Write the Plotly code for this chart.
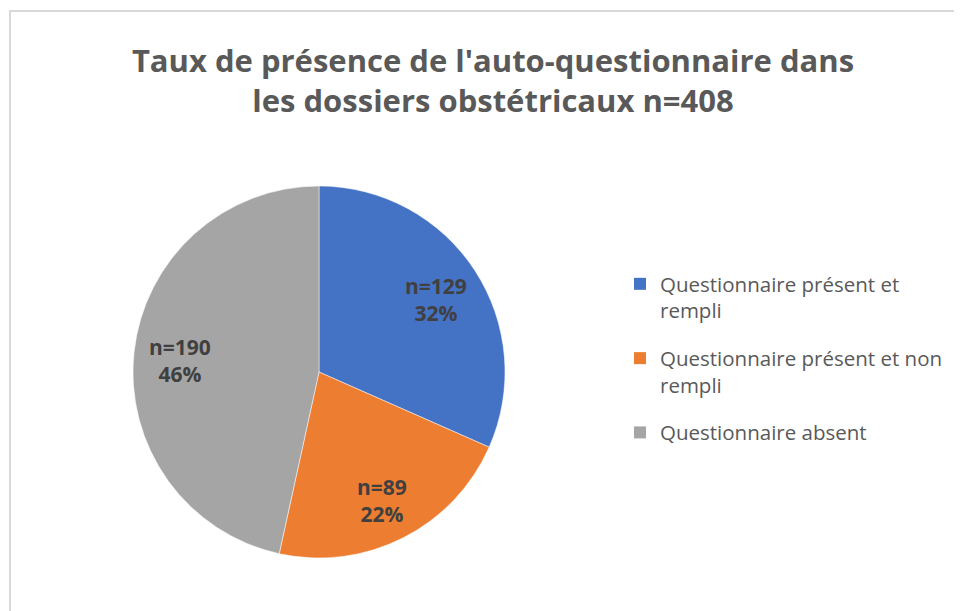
import math
import plotly.graph_objects as go

categories = ["Questionnaire présent et<br>rempli",
              "Questionnaire présent et non<br>rempli",
              "Questionnaire absent"]
counts = [129, 89, 190]
pct_labels = ["32%", "22%", "46%"]
colors = ["#4472C4", "#ED7D31", "#A5A5A5"]
title_text = "Taux de présence de l'auto-questionnaire dans<br>les dossiers obstétricaux n=408"

W, H = 962, 611
# the page adds an 8px body margin, so positions below are in figure pixels
cx, cy, r = 311, 364, 186
label_frac = 0.75
label_dy = 4

fig = go.Figure()
fig.add_trace(go.Pie(
    labels=categories,
    values=counts,
    textinfo="none",
    marker=dict(colors=colors, line=dict(color="white", width=0.5)),
    sort=False,
    direction="clockwise",
    rotation=0,
    showlegend=False,
    hoverinfo="label+value+percent",
    domain=dict(x=[(cx - r) / W, (cx + r) / W], y=[(H - cy - r) / H, (H - cy + r) / H]),
))

# legend entries (one per category) with controlled spacing
for name, col in zip(categories, colors):
    fig.add_trace(go.Scatter(
        x=[None], y=[None], mode="markers", name=name, legendgroup=name,
        marker=dict(symbol="square", size=12, color=col),
        hoverinfo="skip",
    ))

# data labels placed at the middle angle of each slice (derived from the data)
total = sum(counts)
annotations = []
start = 0.0
for c, p in zip(counts, pct_labels):
    frac = c / total
    mid = (start + frac / 2) * 2 * math.pi
    start += frac
    px = cx + label_frac * r * math.sin(mid)
    py = cy - label_frac * r * math.cos(mid) + label_dy
    annotations.append(dict(
        x=px / W, y=1 - py / H, xref="paper", yref="paper",
        text=f"<b>n={c}<br>{p}</b>", showarrow=False,
        xanchor="center", yanchor="middle", align="center",
        font=dict(family="Open Sans", size=21, color="#404040"),
    ))

fig.update_layout(
    width=W, height=H,
    margin=dict(l=0, r=0, t=0, b=0),
    paper_bgcolor="white",
    plot_bgcolor="white",
    xaxis=dict(visible=False),
    yaxis=dict(visible=False),
    font=dict(family="Open Sans", color="#595959"),
    title=dict(text=title_text, x=485 / W, xanchor="center", y=1 - 64 / H, yanchor="top",
               font=dict(family="Open Sans", size=31, color="#595959", weight="bold")),
    legend=dict(x=612 / W, y=1 - 256 / H, xanchor="left", yanchor="top",
                font=dict(family="Open Sans", size=20.5, color="#595959"),
                valign="top", tracegroupgap=18, bgcolor="rgba(0,0,0,0)"),
    annotations=annotations,
    shapes=[dict(type="rect", xref="paper", yref="paper",
                 x0=2 / W, x1=1.05, y0=-0.05, y1=1 - 3 / H,
                 line=dict(color="#D9D9D9", width=2), fillcolor="rgba(0,0,0,0)", layer="below")],
)

fig.write_html("out.html")
